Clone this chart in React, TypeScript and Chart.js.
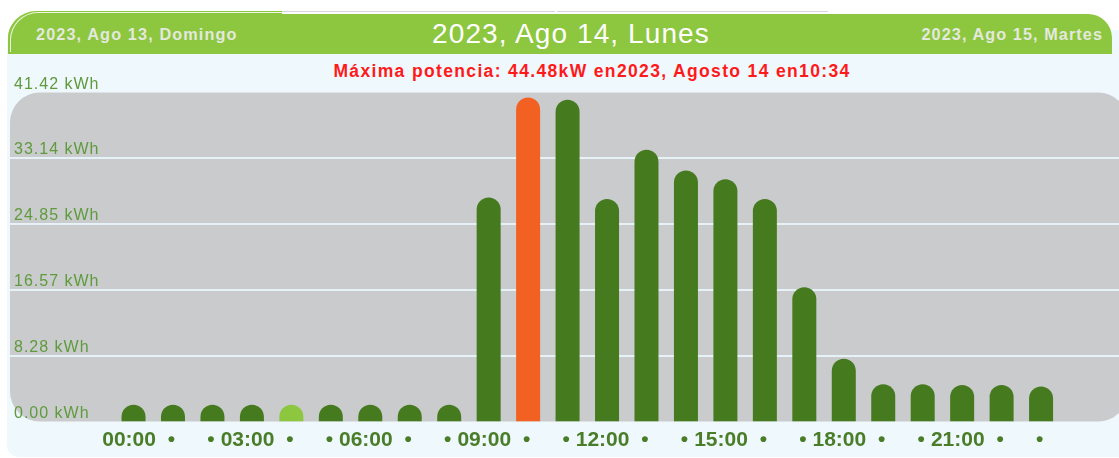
import React, { useEffect, useRef } from "react";
import { Chart, registerables } from "chart.js";

Chart.register(...registerables);

// ---- data ----
const hours = [
  "00:00", "01:00", "02:00", "03:00", "04:00", "05:00", "06:00", "07:00",
  "08:00", "09:00", "10:00", "11:00", "12:00", "13:00", "14:00", "15:00",
  "16:00", "17:00", "18:00", "19:00", "20:00", "21:00", "22:00", "23:00",
];
const tickLabels = [
  "00:00", "•", "•", "03:00", "•", "•", "06:00", "•", "•", "09:00", "•", "•",
  "12:00", "•", "•", "15:00", "•", "•", "18:00", "•", "•", "21:00", "•", "•",
];
const energyKWh = [
  2.1, 2.1, 2.1, 2.1, 2.1, 2.1, 2.1, 2.1, 2.1, 28.2, 40.8, 40.5,
  28.0, 34.2, 31.6, 30.5, 28.0, 16.9, 7.9, 4.7, 4.7, 4.6, 4.6, 4.4,
];
const yTicks = [0, 8.28, 16.57, 24.85, 33.14, 41.42];
const yMax = 41.42;
const highlightedHour = 4;

const prevDay = "2023, Ago 13, Domingo";
const currentDay = "2023, Ago 14, Lunes";
const nextDay = "2023, Ago 15, Martes";
const peakText = "Máxima potencia: 44.48kW en2023, Agosto 14 en10:34";

const FONT = '"Liberation Sans", Arial, Helvetica, sans-serif';
const DARK_GREEN = "#467a1f";
const LIGHT_GREEN = "#8dc63f";
const ORANGE = "#f26122";

const peakIndex = energyKWh.indexOf(Math.max(...energyKWh));

const backdrop = {
  id: "backdrop",
  beforeDraw(chart: any) {
    const { ctx } = chart;
    const y = chart.scales.y;
    const top = y.getPixelForValue(yMax);
    const bottom = y.getPixelForValue(0);
    const left = 10;
    const right = 1128;
    ctx.save();
    ctx.fillStyle = "#cacbcd";
    ctx.beginPath();
    ctx.roundRect(left, top, right - left, bottom - top, 30);
    ctx.fill();
    ctx.strokeStyle = "#e6f2f8";
    ctx.lineWidth = 2;
    for (const t of y.ticks) {
      if (t.value <= 0 || t.value >= yMax) continue;
      const py = Math.round(y.getPixelForValue(t.value));
      ctx.beginPath();
      ctx.moveTo(left, py);
      ctx.lineTo(right, py);
      ctx.stroke();
    }
    ctx.fillStyle = "#5f9a3c";
    ctx.font = `16px ${FONT}`;
    (ctx as any).letterSpacing = "1px";
    ctx.textAlign = "left";
    ctx.textBaseline = "alphabetic";
    for (const t of y.ticks) {
      const py = y.getPixelForValue(t.value);
      ctx.fillText(`${t.value.toFixed(2)} kWh`, 14, py - 4);
    }
    ctx.restore();
  },
};

// draws each bar element (positions computed by Chart.js) with a full round cap
const domeBars = {
  id: "domeBars",
  beforeDatasetDraw(chart: any, args: any) {
    const { ctx } = chart;
    const area = chart.chartArea;
    ctx.save();
    ctx.beginPath();
    ctx.rect(area.left - 20, area.top - 20, area.right - area.left + 40, area.bottom - area.top + 20);
    ctx.clip();
    args.meta.data.forEach((el: any) => {
      const { x, y, base, width } = el.getProps(["x", "y", "base", "width"], true);
      const h = base - y;
      const hw = width / 2;
      ctx.fillStyle = el.options.backgroundColor;
      ctx.beginPath();
      if (h >= hw) {
        ctx.moveTo(x - hw, base);
        ctx.lineTo(x - hw, y + hw);
        ctx.arc(x, y + hw, hw, Math.PI, 0);
        ctx.lineTo(x + hw, base);
      } else {
        ctx.ellipse(x, base, hw, h, 0, Math.PI, 0);
      }
      ctx.closePath();
      ctx.fill();
    });
    ctx.restore();
    return false;
  },
};

function EnergyChart() {
  const ref = useRef<HTMLCanvasElement | null>(null);
  useEffect(() => {
    if (!ref.current) return;
    const chart = new Chart(ref.current, {
      type: "bar",
      data: {
        labels: hours,
        datasets: [
          {
            data: energyKWh,
            backgroundColor: (c: any) =>
              c.dataIndex === peakIndex
                ? ORANGE
                : c.dataIndex === highlightedHour
                ? LIGHT_GREEN
                : DARK_GREEN,
            barThickness: 24,
            borderRadius: { topLeft: 12, topRight: 12, bottomLeft: 0, bottomRight: 0 },
            borderSkipped: "bottom",
          },
        ],
      },
      options: {
        responsive: false,
        maintainAspectRatio: false,
        animation: false,
        layout: { padding: { left: 113.8, right: 58.2, top: 92.5, bottom: 0 } },
        plugins: { legend: { display: false }, tooltip: { enabled: false } },
        scales: {
          x: {
            grid: { display: false, drawTicks: false },
            border: { display: false },
            afterFit: (scale: any) => {
              scale.height = 36.5;
            },
            ticks: {
              autoSkip: false,
              maxRotation: 0,
              padding: 6,
              labelOffset: -1.5,
              color: "#4a7d28",
              font: { family: FONT, size: 21, weight: "bold" },
              callback: (_v: any, i: number) =>
                tickLabels[i] === "•" ? tickLabels[i] : tickLabels[i] + " ",
            },
          },
          y: {
            display: false,
            min: 0,
            max: yMax,
            afterBuildTicks: (scale: any) => {
              scale.ticks = yTicks.map((v) => ({ value: v }));
            },
          },
        },
      },
      plugins: [backdrop, domeBars],
    } as any);
    return () => chart.destroy();
  }, []);
  return (
    <canvas
      ref={ref}
      width={1119}
      height={458}
      style={{ position: "absolute", left: 0, top: 0, width: 1119, height: 458 }}
    />
  );
}

export default function App() {
  const abs: React.CSSProperties = { position: "absolute" };
  return (
    <div
      style={{
        position: "absolute",
        left: 0,
        top: 0,
        width: 1119,
        height: 458,
        background: "#ffffff",
        overflow: "hidden",
        fontFamily: FONT,
      }}
    >
      <div style={{ ...abs, left: 282, top: 11, width: 273, height: 1, background: "#d4d6d8" }} />
      <div style={{ ...abs, left: 557, top: 11, width: 271, height: 1, background: "#d4d6d8" }} />
      <div
        style={{
          ...abs,
          left: 7,
          top: 30,
          width: 1140,
          height: 427,
          background: "#eef8fd",
          borderRadius: 12,
        }}
      />
      <div
        style={{
          ...abs,
          left: 8,
          top: 14,
          width: 1104,
          height: 40,
          background: LIGHT_GREEN,
          borderTopLeftRadius: 24,
          borderTopRightRadius: 24,
        }}
      />
      <div
        style={{
          ...abs,
          left: 8,
          top: 11,
          width: 274,
          height: 43,
          background: LIGHT_GREEN,
          borderTopLeftRadius: 28,
        }}
      />
      <div
        style={{
          ...abs,
          left: 10,
          top: 12,
          width: 272,
          height: 40,
          borderTop: "1.5px solid rgba(255,255,255,0.85)",
          borderLeft: "1.5px solid rgba(255,255,255,0.85)",
          borderTopLeftRadius: 28,
          boxSizing: "border-box",
        }}
      />
      <div
        style={{
          ...abs,
          left: 36,
          top: 14,
          height: 40,
          lineHeight: "40px",
          fontSize: 16.3,
          letterSpacing: 1.1,
          fontWeight: "bold",
          color: "#e4e9de",
          whiteSpace: "nowrap",
        }}
      >
        {prevDay}
      </div>
      <div
        style={{
          ...abs,
          left: 271,
          width: 600,
          top: 14,
          height: 40,
          lineHeight: "40px",
          fontSize: 28,
          letterSpacing: 1.1,
          color: "#ffffff",
          textAlign: "center",
          whiteSpace: "nowrap",
        }}
      >
        {currentDay}
      </div>
      <div
        style={{
          ...abs,
          right: 16,
          top: 14,
          height: 40,
          lineHeight: "40px",
          fontSize: 16.3,
          letterSpacing: 1.05,
          fontWeight: "bold",
          color: "#e4e9de",
          whiteSpace: "nowrap",
          textAlign: "right",
        }}
      >
        {nextDay}
      </div>
      <div
        style={{
          ...abs,
          left: 192,
          width: 800,
          top: 60,
          height: 22,
          lineHeight: "22px",
          fontSize: 17.5,
          letterSpacing: 1.35,
          fontWeight: "bold",
          color: "#ff1a1a",
          textAlign: "center",
          whiteSpace: "nowrap",
        }}
      >
        {peakText}
      </div>
      <EnergyChart />
    </div>
  );
}
